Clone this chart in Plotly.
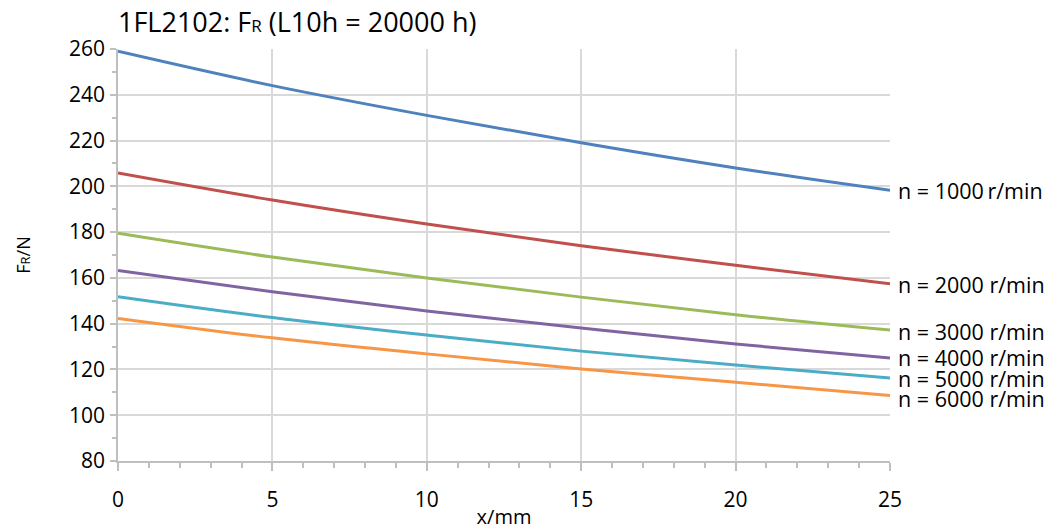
import plotly.graph_objects as go

x_mm = [0, 5, 10, 15, 20, 25]
fr_1000 = [259, 244, 231, 219, 208, 198.3]
fr_2000 = [205.8, 194, 183.5, 174, 165.5, 157.4]
fr_3000 = [179.5, 169.1, 160, 151.6, 143.9, 137.2]
fr_4000 = [163.2, 153.9, 145.5, 138.1, 131.1, 125]
fr_5000 = [151.8, 142.7, 135, 128, 121.9, 116.3]
fr_6000 = [142.3, 133.8, 126.8, 120.2, 114.4, 108.6]
labels = ["n = 1000\u2009r/min", "n = 2000 r/min", "n = 3000 r/min",
          "n = 4000 r/min", "n = 5000 r/min", "n = 6000 r/min"]
series = [fr_1000, fr_2000, fr_3000, fr_4000, fr_5000, fr_6000]
colors = ["#4F81BD", "#C0504D", "#9BBB59", "#8064A2", "#4BACC6", "#F79646"]
label_shift = [0, -1, -1, 1, -1, -3]

FONT = "Open Sans"
W, H = 1050, 522  # page body has an 8px margin
fig = go.Figure()
for ys, c in zip(series, colors):
    fig.add_trace(go.Scatter(x=x_mm, y=ys, mode="lines",
                             line=dict(color=c, width=3, shape="spline"),
                             showlegend=False, hoverinfo="skip"))
for ys, lab, sh in zip(series, labels, label_shift):
    fig.add_annotation(x=x_mm[-1], y=ys[-1], text=lab, xref="x", yref="y",
                       xanchor="left", yanchor="middle", xshift=6, yshift=sh,
                       showarrow=False, font=dict(family=FONT, size=21.5, color="#000"))

fig.update_layout(
    width=W, height=H,
    margin=dict(l=110, r=168, t=41, b=69, autoexpand=False),
    paper_bgcolor="white", plot_bgcolor="white",
    font=dict(family=FONT, size=21, color="#000"),
    title=dict(text="1FL2102: F<span style='font-size:17px'>R</span> (L10h = 20000 h)",
               x=110/W, xanchor="left", y=1-15/H, yanchor="middle",
               font=dict(family=FONT, size=27, color="#000")),
)
fig.update_xaxes(range=[0, 25], tick0=0, dtick=5, showgrid=True, gridcolor="#d9d9d9", gridwidth=1.5,
                 zeroline=False, showline=True, linecolor="#bfbfbf", linewidth=1.5,
                 ticks="outside", ticklen=8, tickcolor="#bfbfbf", tickwidth=1.5,
                 minor=dict(dtick=1, ticks="outside", ticklen=5, tickcolor="#bfbfbf", showgrid=False),
                 tickfont=dict(size=21), ticklabelstandoff=11, automargin=False,
                 title=dict(text="x/mm", font=dict(size=20), standoff=0))
fig.update_yaxes(range=[80, 260], tick0=80, dtick=20, showgrid=True, gridcolor="#d9d9d9", gridwidth=1.5,
                 zeroline=False, showline=True, linecolor="#bfbfbf", linewidth=1.5,
                 ticks="outside", ticklen=6, tickcolor="#bfbfbf", tickwidth=1.5,
                 minor=dict(dtick=10, ticks="outside", ticklen=4, tickcolor="#bfbfbf", showgrid=False),
                 tickfont=dict(size=21), ticklabelstandoff=1, automargin=False,
                 title=dict(text="F<span style='font-size:13px'>R</span>/N", font=dict(size=18), standoff=34))

fig.write_html("out.html")
